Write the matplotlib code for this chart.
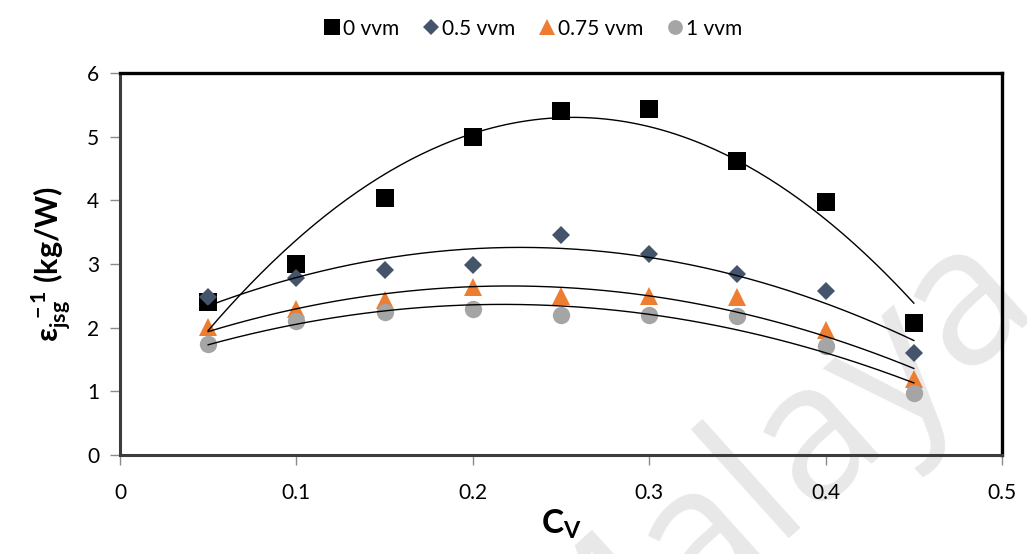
import numpy as np
import matplotlib
matplotlib.use("Agg")
import matplotlib.pyplot as plt

plt.rcParams['font.family'] = ['Lato', 'DejaVu Sans']
plt.rcParams['mathtext.fontset'] = 'custom'
plt.rcParams['mathtext.rm'] = 'Lato'
plt.rcParams['mathtext.bf'] = 'Lato:weight=bold'
plt.rcParams['mathtext.it'] = 'Lato:italic'

# superficial gas velocity (C_V) and specific energy for each aeration rate
cv = [0.05, 0.1, 0.15, 0.2, 0.25, 0.3, 0.35, 0.4, 0.45]
eps_0vvm = [2.40, 3.00, 4.04, 5.00, 5.41, 5.44, 4.62, 3.97, 2.08]
eps_05vvm = [2.48, 2.78, 2.91, 2.99, 3.45, 3.16, 2.85, 2.58, 1.60]
eps_075vvm = [2.01, 2.30, 2.44, 2.64, 2.49, 2.49, 2.48, 1.97, 1.19]
eps_1vvm = [1.75, 2.11, 2.24, 2.29, 2.20, 2.20, 2.18, 1.71, 0.98]

labels = ["0 vvm", "0.5 vvm", "0.75 vvm", "1 vvm"]
colors = ["#000000", "#44546A", "#ED7D31", "#A5A5A5"]
markers = ["s", "D", "^", "o"]
msizes = [13.5, 9.5, 13, 12.5]

x_ticks = [0, 0.1, 0.2, 0.3, 0.4, 0.5]
y_ticks = [0, 1, 2, 3, 4, 5, 6]


def plot_series(ax, x, y, color, marker, ms, label):
	ax.plot(x, y, linestyle="none", marker=marker, markersize=ms, color=color,
		markeredgewidth=0, label=label, zorder=2)
	# excel style 2nd order polynomial trend line
	coef = np.polyfit(x, y, 2)
	xs = np.linspace(min(x), max(x), 200)
	ax.plot(xs, np.polyval(coef, xs), color="black", linewidth=1.0, zorder=3)


fig = plt.figure(figsize=(10.27, 5.54), dpi=100)
ax = fig.add_axes([0.1168, 0.1787, 0.8589, 0.6895])
ax.set_zorder(1)

# faint watermark in the lower right corner, behind the axes
fig.text(0.551, -0.305, "Malaya", fontsize=138, color="#e8e8e8", rotation=42,
	rotation_mode="anchor", ha="left", va="baseline", zorder=0, family="Open Sans")

series = [eps_0vvm, eps_05vvm, eps_075vvm, eps_1vvm]
for y, c, m, ms, lab in zip(series, colors, markers, msizes, labels):
	plot_series(ax, cv, y, c, m, ms, lab)

ax.set_facecolor("none")
ax.set_xlim(0, 0.5)
ax.set_ylim(0, 6)
ax.set_xticks(x_ticks)
ax.set_xticklabels([f"{t:g}" for t in x_ticks])
ax.set_yticks(y_ticks)
ax.tick_params(axis="both", direction="out", length=7, width=1, color="#8c8c8c",
	labelsize=15, pad=8)
ax.tick_params(axis="x", pad=13)

for side in ["left", "bottom"]:
	ax.spines[side].set_color("#3c3c3c")
	ax.spines[side].set_linewidth(2.2)
for side in ["top", "right"]:
	ax.spines[side].set_color("black")
	ax.spines[side].set_linewidth(2.4)

ax.set_xlabel(r"$\mathbf{C_V}$", fontsize=24, labelpad=4)
ax.set_ylabel(r"$\mathbf{ε_{jsg}^{\ -1}}$" + " (kg/W)", fontsize=22,
	fontweight="bold", labelpad=10)

handles, labs = ax.get_legend_handles_labels()
fig.legend(handles, labs, loc="upper center", bbox_to_anchor=(0.518, 1.0), ncol=4,
	frameon=False, fontsize=15, handletextpad=0.05, columnspacing=1.0,
	markerscale=0.85, handlelength=1.0)

fig.savefig("out.png", dpi=100)
